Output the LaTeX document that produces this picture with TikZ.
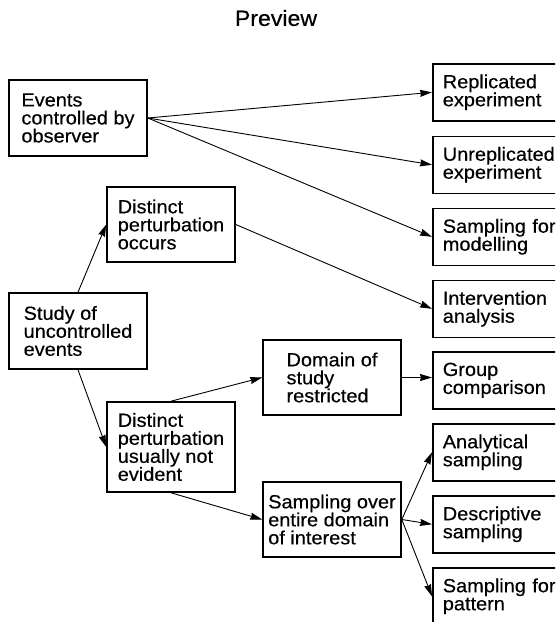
\documentclass[tikz,border=0pt]{standalone}
\usepackage{fontspec}
\setmainfont[FakeStretch=1.05,FakeBold=0.4]{Liberation Sans}
\usetikzlibrary{arrows.meta}
\begin{document}
\begin{tikzpicture}[x=1pt,y=-1pt,
  txt/.style={font=\fontsize{19}{18}\selectfont},
  box/.style={txt, draw, line width=1.6pt, align=left, inner sep=0pt},
  rbox/.style={box, anchor=north west, text width=120pt, inner xsep=10pt, minimum height=57pt},
  arr/.style={line width=0.9pt, -{Stealth[length=12pt,width=7pt,inset=1pt]}}]
\useasboundingbox (0,0) rectangle (555,622);
\clip (0,0) rectangle (555,622);
\node[font=\fontsize{22}{24}\selectfont] (title) at (276,18) {Preview};
% left column
\node[box, minimum width=138pt, minimum height=76pt] (ctrl) at (78,118) {Events\\controlled by\\observer};
\node[box, minimum width=138pt, minimum height=76pt] (study) at (78,331) {Study of\\uncontrolled\\events};
% middle column
\node[box, minimum width=128pt, minimum height=75pt] (dpo) at (171,224.5) {Distinct\\perturbation\\occurs};
\node[box, minimum width=128pt, minimum height=90pt] (dpune) at (171,447) {Distinct\\perturbation\\usually not\\evident};
\node[box, minimum width=138pt, minimum height=75pt] (domain) at (332,377.5) {Domain of\\study\\restricted};
\node[box, minimum width=138pt, minimum height=75pt] (sover) at (332,519.5) {Sampling over\\entire domain\\of interest};
% right column
\node[rbox] (rep) at (432,63) {Replicated\\experiment};
\node[rbox] (unrep) at (432,135.5) {Unreplicated\\experiment};
\node[rbox] (model) at (432,207.5) {Sampling for\\modelling};
\node[rbox] (interv) at (432,279.5) {Intervention\\analysis};
\node[rbox] (group) at (432,351) {Group\\comparison};
\node[rbox] (anal) at (432,423) {Analytical\\sampling};
\node[rbox] (desc) at (432,495) {Descriptive\\sampling};
\node[rbox] (patt) at (432,567) {Sampling for\\pattern};
% connectors
\draw[arr] (ctrl.east) -- (rep.west);
\draw[arr] (ctrl.east) -- (unrep.west);
\draw[arr] (ctrl.east) -- (model.west);
\draw[arr] (dpo.east) -- (interv.west);
\draw[arr] (study.north) -- (dpo.west);
\draw[arr] (study.south) -- (dpune.west);
\draw[arr] (dpune.north) -- (domain.west);
\draw[arr] (dpune.south) -- (sover.west);
\draw[arr] (domain.east) -- (domain.east -| group.west);
\draw[arr] (sover.east) -- (anal.west);
\draw[arr] (sover.east) -- (desc.west);
\draw[arr] (sover.east) -- (patt.west);
\end{tikzpicture}
\end{document}
